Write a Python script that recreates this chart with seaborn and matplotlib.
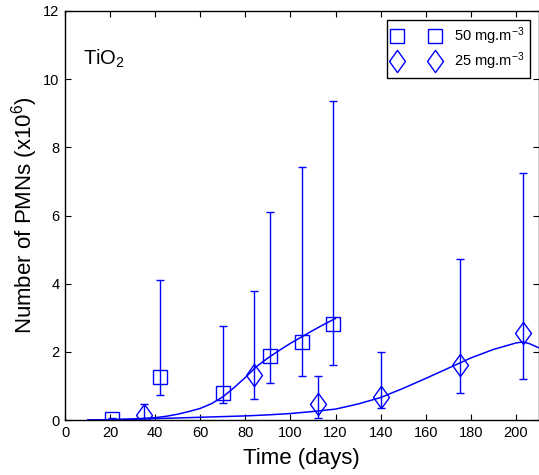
import matplotlib
matplotlib.use("Agg")
import matplotlib.pyplot as plt
import seaborn as sns
import pandas as pd
import numpy as np

# ---- data ----
sq_days = [21, 42, 70, 91, 105, 119]
sq_vals = [0.03, 1.25, 0.80, 1.89, 2.28, 2.81]
sq_upper = [0.06, 4.10, 2.77, 6.11, 7.41, 9.36]
sq_lower = [0.0, 0.73, 0.49, 1.08, 1.29, 1.61]

di_days = [35, 84, 112, 140, 175, 203]
di_vals = [0.15, 1.32, 0.46, 0.68, 1.61, 2.54]
di_upper = [0.47, 3.79, 1.28, 1.99, 4.72, 7.24]
di_lower = [0.0, 0.63, 0.05, 0.36, 0.80, 1.19]

sq_fit_days = [10, 20, 30, 40, 45, 50, 55, 60, 65, 70, 75, 80, 85, 90, 95, 100, 105, 110, 115, 120]
sq_fit_vals = [0.0, 0.01, 0.03, 0.07, 0.11, 0.17, 0.25, 0.34, 0.48, 0.68, 0.95, 1.25, 1.57, 1.82, 2.04, 2.25, 2.44, 2.63, 2.81, 2.98]

di_fit_days = [10, 20, 30, 40, 50, 60, 70, 80, 90, 100, 110, 120, 130, 140, 150, 160, 170, 180, 190, 200, 203, 206, 210]
di_fit_vals = [0.0, 0.01, 0.02, 0.04, 0.06, 0.08, 0.10, 0.12, 0.15, 0.19, 0.25, 0.32, 0.47, 0.66, 0.93, 1.22, 1.52, 1.82, 2.07, 2.26, 2.29, 2.24, 2.12]

labels = ["50 mg.m$^{-3}$", "25 mg.m$^{-3}$"]

sns.set_style("ticks")
plt.rcParams['font.family'] = ['Liberation Sans', 'DejaVu Sans']
plt.rcParams['mathtext.fontset'] = 'custom'
plt.rcParams['mathtext.rm'] = 'Liberation Sans'
plt.rcParams['mathtext.it'] = 'Liberation Sans'
plt.rcParams['mathtext.bf'] = 'Liberation Sans'
plt.rcParams['text.color'] = 'black'
plt.rcParams['axes.labelcolor'] = 'black'

fig = plt.figure(figsize=(5.39, 4.75), dpi=100)
ax = fig.add_axes([65/539, 55/475, 473.5/539, 409/475])

blue = '#0000ff'
diamond = [(-0.72, 0), (0, 1), (0.72, 0), (0, -1), (-0.72, 0)]

fit_sq = pd.DataFrame({'day': sq_fit_days, 'val': sq_fit_vals})
fit_di = pd.DataFrame({'day': di_fit_days, 'val': di_fit_vals})
sns.lineplot(data=fit_sq, x='day', y='val', ax=ax, color=blue, lw=1.1, legend=False)
sns.lineplot(data=fit_di, x='day', y='val', ax=ax, color=blue, lw=1.1, legend=False)

sq_v = np.array(sq_vals)
di_v = np.array(di_vals)
ax.errorbar(sq_days, sq_vals, yerr=[sq_v - np.array(sq_lower), np.array(sq_upper) - sq_v],
            fmt='none', ecolor=blue, elinewidth=1.0, capsize=3, capthick=1.0)
ax.errorbar(di_days, di_vals, yerr=[di_v - np.array(di_lower), np.array(di_upper) - di_v],
            fmt='none', ecolor=blue, elinewidth=1.0, capsize=3, capthick=1.0)

ax.plot(sq_days, sq_vals, linestyle='none', marker='s', markersize=10.5,
        markerfacecolor='none', markeredgecolor=blue, markeredgewidth=1.0, label=labels[0])
ax.plot(di_days, di_vals, linestyle='none', marker=diamond, markersize=16,
        markerfacecolor='none', markeredgecolor=blue, markeredgewidth=1.0, label=labels[1])

ax.set_xlim(0, 210)
ax.set_ylim(0, 12)
ax.set_xticks(range(0, 201, 20))
ax.set_yticks(range(0, 13, 2))
ax.tick_params(direction='in', top=True, right=True, length=4, width=0.8,
               labelsize=10.5, colors='black', pad=4)
for s in ax.spines.values():
    s.set_visible(True)
    s.set_linewidth(1.0)
    s.set_color('black')

ax.set_xlabel("Time (days)", fontsize=16, labelpad=6, color='black')
ax.set_ylabel("Number of PMNs (x10$^{6}$)", fontsize=16, labelpad=2, color='black')

ax.text(8, 10.6, "TiO$_2$", fontsize=14.5, va='center', ha='left', color='black')

leg = ax.legend(loc='upper right', numpoints=2, fontsize=10.5, frameon=True,
                fancybox=False, edgecolor='black', framealpha=1,
                borderaxespad=0.6, handlelength=3.2, handletextpad=1.0,
                labelspacing=0.2, borderpad=0.4)
leg.get_frame().set_linewidth(1.0)
for t in leg.get_texts():
    t.set_color('black')

fig.savefig("out.png", dpi=100)
